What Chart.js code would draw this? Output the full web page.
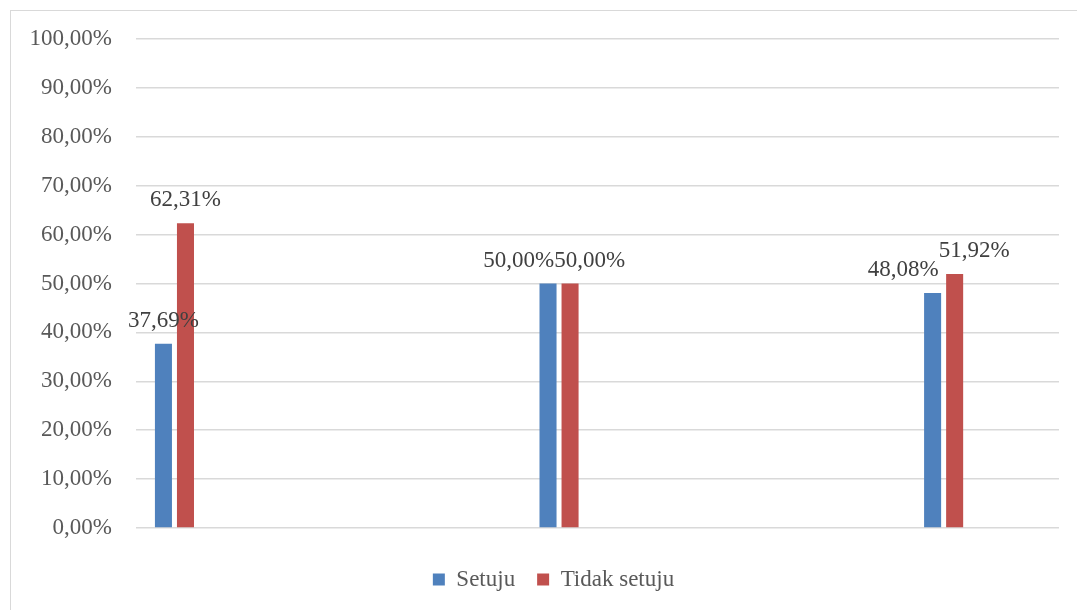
<!DOCTYPE html>
<html>
<head>
<meta charset="utf-8">
<script src="https://cdn.jsdelivr.net/npm/chart.js@4/dist/chart.umd.min.js"></script>
<style>
  html, body { margin: 0; padding: 0; background: #ffffff; overflow: hidden; width: 1077px; height: 610px; }
  #box { position: absolute; left: 10px; top: 10px; width: 1085px; height: 620px; border: 1px solid #d9d9d9; background: #fff; }
  #c { display: block; }
</style>
</head>
<body>
<div id="box"><canvas id="c" width="1085" height="620"></canvas></div>
<script>
// ---- data ----
const categories = ["", "", "", "", "", "", "", "", "", "", "", ""];
const seriesNames = ["Setuju", "Tidak setuju"];
const setujuValues = [37.69, null, null, null, null, 50.00, null, null, null, null, 48.08, null];
const tidakSetujuValues = [62.31, null, null, null, null, 50.00, null, null, null, null, 51.92, null];
const yTicks = [0, 10, 20, 30, 40, 50, 60, 70, 80, 90, 100];

const FONT = "'Liberation Serif', 'Times New Roman', serif";
const fmt = v => v.toFixed(2).replace('.', ',') + '%';

const dataLabelPlugin = {
  id: 'dataLabels',
  afterDatasetsDraw(chart) {
    const ctx = chart.ctx;
    ctx.save();
    ctx.font = "23px " + FONT;
    ctx.fillStyle = '#404040';
    ctx.textAlign = 'center';
    ctx.textBaseline = 'alphabetic';
    const groups = {};
    chart.data.datasets.forEach((ds, di) => {
      const meta = chart.getDatasetMeta(di);
      meta.data.forEach((el, i) => {
        const v = ds.data[i];
        if (v === null || v === undefined) return;
        const text = fmt(v);
        const w = ctx.measureText(text).width;
        (groups[i] = groups[i] || []).push({ text, x: el.x, y: el.y - 17, w });
      });
    });
    Object.values(groups).forEach(list => {
      list.sort((a, b) => a.x - b.x);
      for (let k = 0; k < list.length - 1; k++) {
        const a = list[k], b = list[k + 1];
        if (Math.abs(a.y - b.y) < 22) {
          const overlap = (a.w / 2 + b.w / 2) - (b.x - a.x);
          if (overlap > 0) { a.x -= overlap * 0.6; b.x += overlap * 0.4; }
        }
      }
      list.forEach(l => ctx.fillText(l.text, l.x, l.y));
    });
    ctx.restore();
  }
};

function noVPad(scale) { scale.paddingTop = 0; scale.paddingBottom = 0; }

new Chart(document.getElementById('c'), {
  type: 'bar',
  data: {
    labels: categories,
    datasets: [
      { label: seriesNames[0], data: setujuValues, backgroundColor: '#4F81BD', borderWidth: 0,
        categoryPercentage: 0.573, barPercentage: 0.773 },
      { label: seriesNames[1], data: tidakSetujuValues, backgroundColor: '#C0504D', borderWidth: 0,
        categoryPercentage: 0.573, barPercentage: 0.773 }
    ]
  },
  options: {
    responsive: false,
    animation: false,
    devicePixelRatio: 1,
    layout: { padding: { left: 0, right: 0, top: 28, bottom: 30 } },
    plugins: {
      tooltip: { enabled: false },
      legend: {
        position: 'bottom',
        labels: {
          boxWidth: 12, boxHeight: 12, padding: 22,
          color: '#595959',
          font: { family: FONT, size: 23 }
        }
      }
    },
    scales: {
      x: {
        display: true,
        grid: { display: false },
        border: { display: false },
        ticks: { display: false },
        afterFit(scale) { scale.height = 18; }
      },
      y: {
        min: 0, max: 100,
        afterBuildTicks(scale) { scale.ticks = yTicks.map(v => ({ value: v })); },
        afterFit(scale) { scale.width = 125; noVPad(scale); },
        grid: { color: '#d9d9d9', lineWidth: 1.5, drawTicks: false },
        border: { display: false },
        ticks: {
          padding: 24,
          color: '#595959',
          font: { family: FONT, size: 23 },
          callback: v => fmt(v)
        }
      },
      yRight: {
        position: 'right',
        display: true,
        min: 0, max: 100,
        grid: { display: false, drawTicks: false },
        border: { display: false },
        ticks: { display: false },
        afterFit(scale) { scale.width = 37; noVPad(scale); }
      }
    }
  },
  plugins: [dataLabelPlugin]
});
</script>
</body>
</html>
